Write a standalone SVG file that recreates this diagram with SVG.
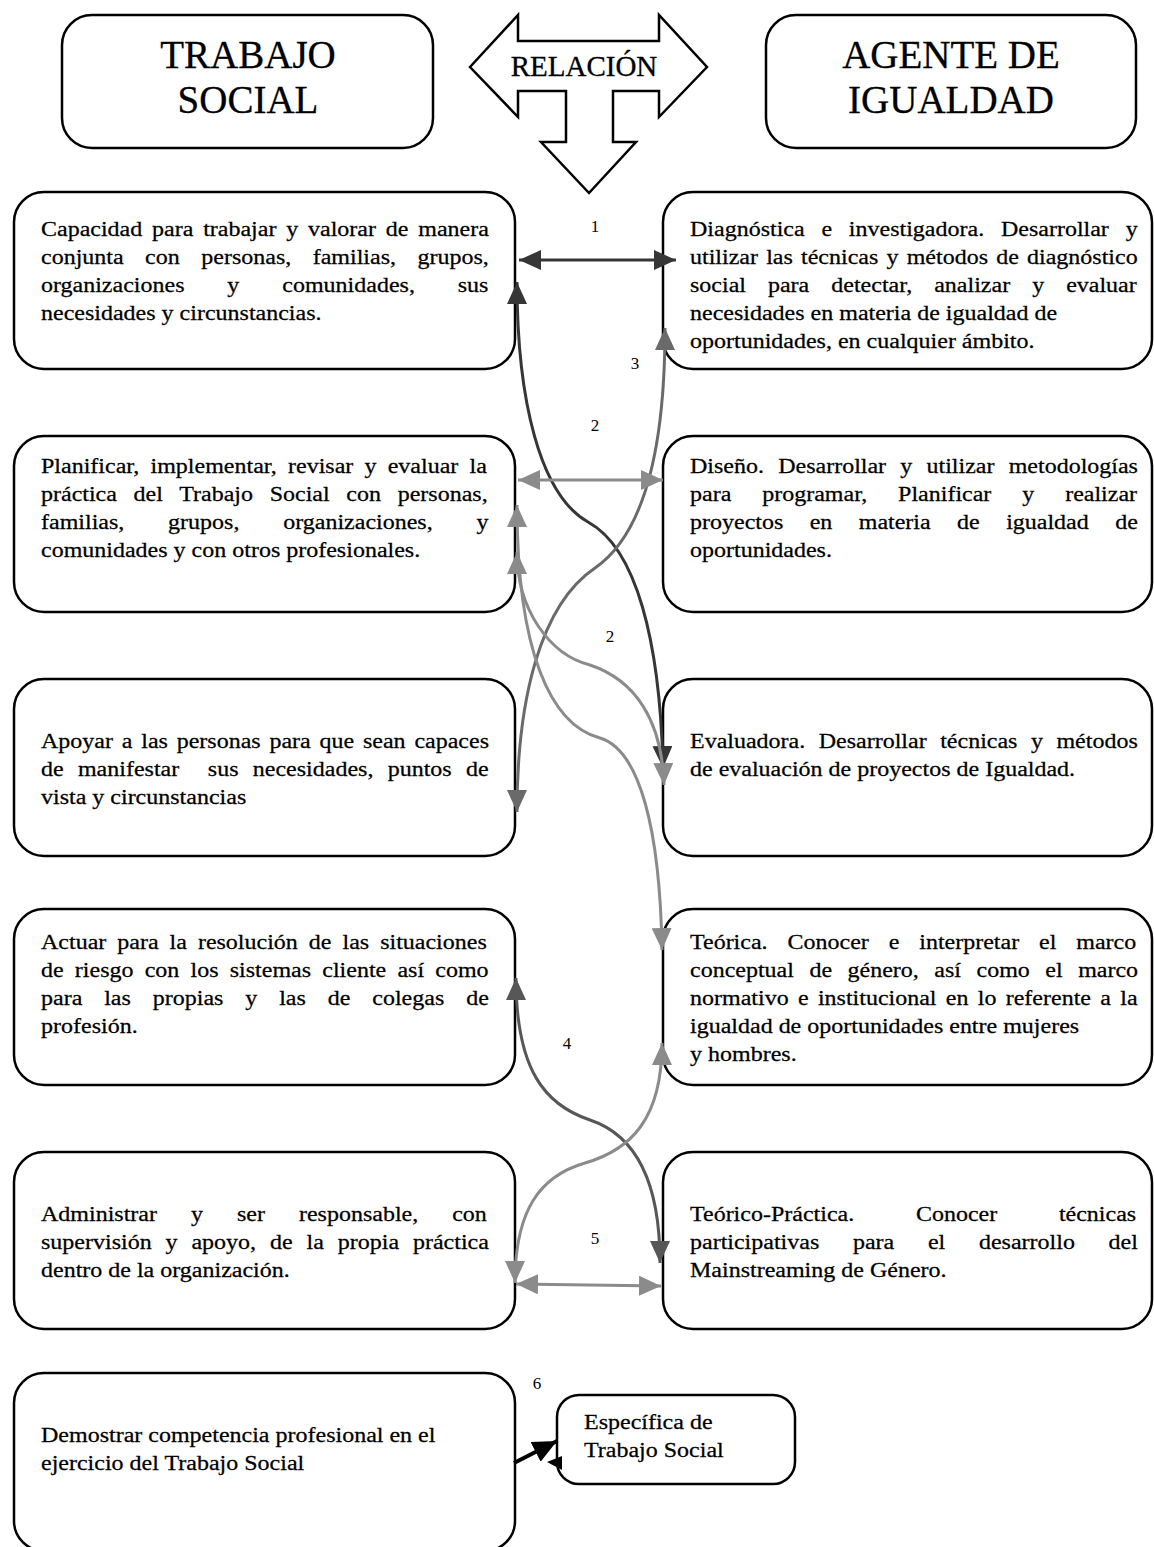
<svg xmlns="http://www.w3.org/2000/svg" width="1154" height="1547" viewBox="0 0 1154 1547">
<style>
.box{fill:#fff;stroke:#000;stroke-width:2.5}
.t{font-family:"Liberation Serif","Times New Roman",serif;font-size:24px;fill:#000;stroke:#000;stroke-width:0.3}
.h{font-family:"Liberation Serif","Times New Roman",serif;font-size:39px;fill:#000;text-anchor:middle;stroke:#000;stroke-width:0.3}
.num{font-family:"Liberation Serif","Times New Roman",serif;font-size:17px;fill:#000;text-anchor:middle}
.c{fill:none;stroke-width:3}
.dk{stroke:#363636}.md{stroke:#6a6a6a}.lt{stroke:#8b8b8b}.mk{stroke:#575757}
</style>
<defs>
<marker id="aD" markerUnits="userSpaceOnUse" markerWidth="22" markerHeight="20" viewBox="0 0 22 20" refX="22" refY="10" orient="auto-start-reverse"><path d="M0,0 L22,10 L0,20 z" fill="#363636"/></marker>
<marker id="aM" markerUnits="userSpaceOnUse" markerWidth="22" markerHeight="20" viewBox="0 0 22 20" refX="22" refY="10" orient="auto-start-reverse"><path d="M0,0 L22,10 L0,20 z" fill="#6a6a6a"/></marker>
<marker id="aL" markerUnits="userSpaceOnUse" markerWidth="22" markerHeight="20" viewBox="0 0 22 20" refX="22" refY="10" orient="auto-start-reverse"><path d="M0,0 L22,10 L0,20 z" fill="#8b8b8b"/></marker>
<marker id="aK" markerUnits="userSpaceOnUse" markerWidth="22" markerHeight="20" viewBox="0 0 22 20" refX="22" refY="10" orient="auto-start-reverse"><path d="M0,0 L22,10 L0,20 z" fill="#575757"/></marker>
<marker id="aB" markerUnits="userSpaceOnUse" markerWidth="24" markerHeight="22" viewBox="0 0 24 22" refX="24" refY="11" orient="auto"><path d="M0,0 L24,11 L0,22 z" fill="#000"/></marker>
</defs>
<rect width="1154" height="1547" fill="#fff"/>

<g id="hdr-trabajo-social">
<rect class="box" x="62" y="15" width="371" height="133" rx="30"/>
<text class="h" x="248" y="68">TRABAJO</text>
<text class="h" x="248" y="113">SOCIAL</text>
</g>
<g id="hdr-relacion">
<polygon points="470,67 518,15 518,41 659,41 659,15 707,67 659,117 659,91 613,91 613,142 636,142 589,193 541,142 566,142 566,91 518,91 518,117" fill="#fff" stroke="#000" stroke-width="2.5" stroke-linejoin="miter"/>
<text x="584" y="76" font-family="'Liberation Serif','Times New Roman',serif" font-size="29" text-anchor="middle" stroke="#000" stroke-width="0.3">RELACIÓN</text>
</g>
<g id="hdr-agente">
<rect class="box" x="766" y="15" width="370" height="133" rx="30"/>
<text class="h" x="951" y="68">AGENTE DE</text>
<text class="h" x="951" y="113">IGUALDAD</text>
</g>

<g id="ts1">
<rect class="box" x="14" y="192" width="501" height="177" rx="30"/>
<text class="t" transform="translate(0,236) scale(1,0.9)">
<tspan x="41" y="0" style="word-spacing:3.8px">Capacidad para trabajar y valorar de manera</tspan>
<tspan x="41" y="31.1" style="word-spacing:15.5px">conjunta con personas, familias, grupos,</tspan>
<tspan x="41" y="62.2" style="word-spacing:36.9px">organizaciones y comunidades, sus</tspan>
<tspan x="41" y="93.3">necesidades y circunstancias.</tspan>
</text>
</g>
<g id="ts2">
<rect class="box" x="14" y="436" width="501" height="176" rx="30"/>
<text class="t" transform="translate(0,473) scale(1,0.9)">
<tspan x="41" y="0" style="word-spacing:5.2px">Planificar, implementar, revisar y evaluar la</tspan>
<tspan x="41" y="31.1" style="word-spacing:10.7px">práctica del Trabajo Social con personas,</tspan>
<tspan x="41" y="62.2" style="word-spacing:37.8px">familias, grupos, organizaciones, y</tspan>
<tspan x="41" y="93.3">comunidades y con otros profesionales.</tspan>
</text>
</g>
<g id="ts3">
<rect class="box" x="14" y="679" width="501" height="177" rx="30"/>
<text class="t" transform="translate(0,748) scale(1,0.9)">
<tspan x="41" y="0" style="word-spacing:2.8px">Apoyar a las personas para que sean capaces</tspan>
<tspan x="41" y="31.1" style="word-spacing:8.3px">de manifestar&#160; sus necesidades, puntos de</tspan>
<tspan x="41" y="62.2">vista y circunstancias</tspan>
</text>
</g>
<g id="ts4">
<rect class="box" x="14" y="909" width="501" height="176" rx="30"/>
<text class="t" transform="translate(0,949) scale(1,0.9)">
<tspan x="41" y="0" style="word-spacing:5px">Actuar para la resolución de las situaciones</tspan>
<tspan x="41" y="31.1" style="word-spacing:5.2px">de riesgo con los sistemas cliente así como</tspan>
<tspan x="41" y="62.2" style="word-spacing:15.9px">para las propias y las de colegas de</tspan>
<tspan x="41" y="93.3">profesión.</tspan>
</text>
</g>
<g id="ts5">
<rect class="box" x="14" y="1152" width="501" height="177" rx="30"/>
<text class="t" transform="translate(0,1221) scale(1,0.9)">
<tspan x="41" y="0" style="word-spacing:28px">Administrar y ser responsable, con</tspan>
<tspan x="41" y="31.1" style="word-spacing:7.9px">supervisión y apoyo, de la propia práctica</tspan>
<tspan x="41" y="62.2">dentro de la organización.</tspan>
</text>
</g>
<g id="ts6">
<rect class="box" x="14" y="1373" width="501" height="178" rx="30"/>
<text class="t" transform="translate(0,1442) scale(1,0.9)">
<tspan x="41" y="0">Demostrar competencia profesional en el</tspan>
<tspan x="41" y="31.1">ejercicio del Trabajo Social</tspan>
</text>
</g>

<g id="ai1">
<rect class="box" x="663" y="192" width="489" height="177" rx="30"/>
<text class="t" transform="translate(0,236) scale(1,0.9)">
<tspan x="690" y="0" style="word-spacing:10.8px">Diagnóstica e investigadora. Desarrollar y</tspan>
<tspan x="690" y="31.1" style="word-spacing:2.2px">utilizar las técnicas y métodos de diagnóstico</tspan>
<tspan x="690" y="62.2" style="word-spacing:16px">social para detectar, analizar y evaluar</tspan>
<tspan x="690" y="93.3">necesidades en materia de igualdad de</tspan>
<tspan x="690" y="124.4">oportunidades, en cualquier ámbito.</tspan>
</text>
</g>
<g id="ai2">
<rect class="box" x="663" y="436" width="489" height="176" rx="30"/>
<text class="t" transform="translate(0,473) scale(1,0.9)">
<tspan x="690" y="0" style="word-spacing:8.2px">Diseño. Desarrollar y utilizar metodologías</tspan>
<tspan x="690" y="31.1" style="word-spacing:24.9px">para programar, Planificar y realizar</tspan>
<tspan x="690" y="62.2" style="word-spacing:20.4px">proyectos en materia de igualdad de</tspan>
<tspan x="690" y="93.3">oportunidades.</tspan>
</text>
</g>
<g id="ai3">
<rect class="box" x="663" y="679" width="489" height="177" rx="30"/>
<text class="t" transform="translate(0,748) scale(1,0.9)">
<tspan x="690" y="0" style="word-spacing:7.5px">Evaluadora. Desarrollar técnicas y métodos</tspan>
<tspan x="690" y="31.1">de evaluación de proyectos de Igualdad.</tspan>
</text>
</g>
<g id="ai4">
<rect class="box" x="663" y="909" width="489" height="176" rx="30"/>
<text class="t" transform="translate(0,949) scale(1,0.9)">
<tspan x="690" y="0" style="word-spacing:13.9px">Teórica. Conocer e interpretar el marco</tspan>
<tspan x="690" y="31.1" style="word-spacing:9.5px">conceptual de género, así como el marco</tspan>
<tspan x="690" y="62.2" style="word-spacing:3.3px">normativo e institucional en lo referente a la</tspan>
<tspan x="690" y="93.3">igualdad de oportunidades entre mujeres</tspan>
<tspan x="690" y="124.4">y hombres.</tspan>
</text>
</g>
<g id="ai5">
<rect class="box" x="663" y="1152" width="489" height="177" rx="30"/>
<text class="t" transform="translate(0,1221) scale(1,0.9)">
<tspan x="690" y="0" style="word-spacing:55.7px">Teórico-Práctica. Conocer técnicas</tspan>
<tspan x="690" y="31.1" style="word-spacing:27.7px">participativas para el desarrollo del</tspan>
<tspan x="690" y="62.2">Mainstreaming de Género.</tspan>
</text>
</g>
<g id="esp">
<rect class="box" x="557" y="1395" width="238" height="89" rx="22"/>
<text class="t" transform="translate(0,1429) scale(1,0.9)">
<tspan x="584" y="0">Específica de</tspan>
<tspan x="584" y="31.1">Trabajo Social</tspan>
</text>
</g>

<g id="connectors">
<path class="c dk" d="M519,260 L676,260" marker-start="url(#aD)" marker-end="url(#aD)"/>
<path class="c dk" d="M517,282 C517,400 540,495 588,522 C636,548 660,640 663,768" marker-start="url(#aD)" marker-end="url(#aD)"/>
<path class="c md" d="M665,328 C665,430 650,530 595,568 C540,605 517,700 517,812" marker-start="url(#aM)" marker-end="url(#aM)"/>
<path class="c lt" d="M518,480 L663,480" marker-start="url(#aL)" marker-end="url(#aL)"/>
<path class="c lt" d="M517,552 C517,610 550,655 590,665 C635,680 662,720 664,785" marker-start="url(#aL)" marker-end="url(#aL)"/>
<path class="c lt" d="M517,505 C517,650 550,725 600,738 C640,750 660,830 662,950" marker-start="url(#aL)" marker-end="url(#aL)"/>
<path class="c mk" d="M516,978 C516,1070 545,1105 590,1120 C635,1135 660,1180 660,1263" marker-start="url(#aK)" marker-end="url(#aK)"/>
<path class="c lt" d="M662,1043 C662,1120 630,1150 585,1163 C540,1176 515,1210 515,1283" marker-start="url(#aL)" marker-end="url(#aL)"/>
<path class="c lt" d="M516,1284 L661,1286" marker-start="url(#aL)" marker-end="url(#aL)"/>
<path d="M514,1463 L557,1441" fill="none" stroke="#000" stroke-width="4" marker-end="url(#aB)"/>
<polygon points="547,1462 562,1456 562,1470" fill="#000"/>
<text class="num" x="595" y="232">1</text>
<text class="num" x="595" y="431">2</text>
<text class="num" x="635" y="369">3</text>
<text class="num" x="610" y="642">2</text>
<text class="num" x="567" y="1049">4</text>
<text class="num" x="595" y="1244">5</text>
<text class="num" x="537" y="1389">6</text>
</g>
</svg>
